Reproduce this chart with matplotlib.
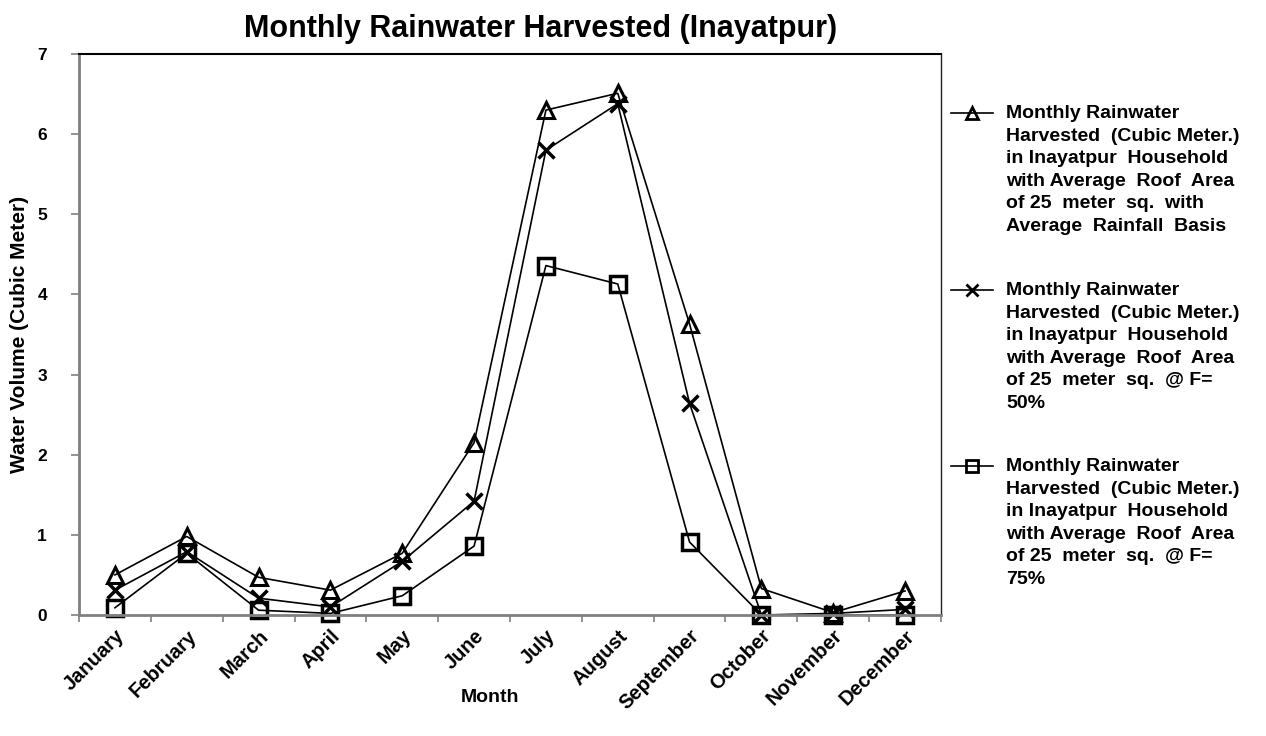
import matplotlib
matplotlib.use("Agg")
import matplotlib.pyplot as plt
from matplotlib.lines import Line2D

plt.rcParams['font.family'] = ['Liberation Sans', 'DejaVu Sans']

months = ["January", "February", "March", "April", "May", "June", "July",
          "August", "September", "October", "November", "December"]

avg_rainfall = [0.50, 0.98, 0.47, 0.31, 0.77, 2.15, 6.30, 6.51, 3.63, 0.33, 0.03, 0.30]
f50 = [0.31, 0.79, 0.21, 0.10, 0.67, 1.42, 5.80, 6.38, 2.64, 0.00, 0.02, 0.07]
f75 = [0.09, 0.77, 0.06, 0.02, 0.24, 0.86, 4.36, 4.13, 0.91, 0.00, 0.00, 0.00]

series_labels = [
    "Monthly Rainwater\nHarvested  (Cubic Meter.)\nin Inayatpur  Household\nwith Average  Roof  Area\nof 25  meter  sq.  with\nAverage  Rainfall  Basis",
    "Monthly Rainwater\nHarvested  (Cubic Meter.)\nin Inayatpur  Household\nwith Average  Roof  Area\nof 25  meter  sq.  @ F=\n50%",
    "Monthly Rainwater\nHarvested  (Cubic Meter.)\nin Inayatpur  Household\nwith Average  Roof  Area\nof 25  meter  sq.  @ F=\n75%",
]

W, H = 1266, 736
fig = plt.figure(figsize=(W / 100, H / 100), dpi=100)
left, right, top, bottom = 79, 941, 54, 615
ax = fig.add_axes([left / W, 1 - bottom / H, (right - left) / W, (bottom - top) / H])

x = list(range(len(months)))
styles = [
    dict(marker='^', markersize=12, markeredgewidth=2.2),
    dict(marker='x', markersize=11, markeredgewidth=2.5),
    dict(marker='s', markersize=12, markeredgewidth=2.5),
]
for vals, st in zip([avg_rainfall, f50, f75], styles):
    ax.plot(x, vals, color='black', linewidth=1.2, markerfacecolor='none',
            markeredgecolor='black', clip_on=False, **st)

ax.set_xlim(-0.5, len(months) - 0.5)
ax.set_ylim(0, 7)
ax.set_yticks(range(0, 8))
ax.set_yticklabels([str(v) for v in range(0, 8)], fontsize=12.5, fontweight='bold')
ax.set_xticks(x)
ax.set_xticklabels(months, rotation=45, ha='right', rotation_mode='anchor',
                   fontsize=14.5, fontweight='bold')
ax.set_xticks([i - 0.5 for i in range(len(months) + 1)], minor=True)
ax.tick_params(axis='x', which='major', length=0, pad=8)
ax.tick_params(axis='x', which='minor', length=5, color='#808080', width=1.2)
ax.tick_params(axis='y', length=6, color='#808080', width=1.2, pad=17)

for s in ['left', 'bottom']:
    ax.spines[s].set_color('#808080')
    ax.spines[s].set_linewidth(2)
ax.spines['top'].set_color('black')
ax.spines['top'].set_linewidth(1.5)
ax.spines['right'].set_color('#222222')
ax.spines['right'].set_linewidth(1)

ax.set_ylabel("Water Volume (Cubic Meter)", fontsize=15, fontweight='bold', labelpad=6)
fig.text(490 / W, 1 - 697 / H, "Month", ha='center', va='center',
         fontsize=14, fontweight='bold')
fig.text(541 / W, 1 - 29 / H, "Monthly Rainwater Harvested (Inayatpur)",
         ha='center', va='center', fontsize=22, fontweight='bold')

# Legend drawn by hand so the key sits beside the first line of each entry
entry_tops = [113, 290, 466]
for ytop, st, lab in zip(entry_tops, styles, series_labels):
    yf = 1 - ytop / H
    fig.add_artist(Line2D([951 / W, 993 / W], [yf, yf], color='black', linewidth=1.2,
                          transform=fig.transFigure))
    fig.add_artist(Line2D([972 / W], [yf], color='black', marker=st['marker'],
                          markersize=8, markeredgewidth=2, markerfacecolor='none',
                          markeredgecolor='black', transform=fig.transFigure))
    fig.text(1006 / W, yf + 8 / H, lab, ha='left', va='top', fontsize=14, fontweight='bold',
             linespacing=1.43, transform=fig.transFigure)

fig.savefig("out.png", dpi=100)
